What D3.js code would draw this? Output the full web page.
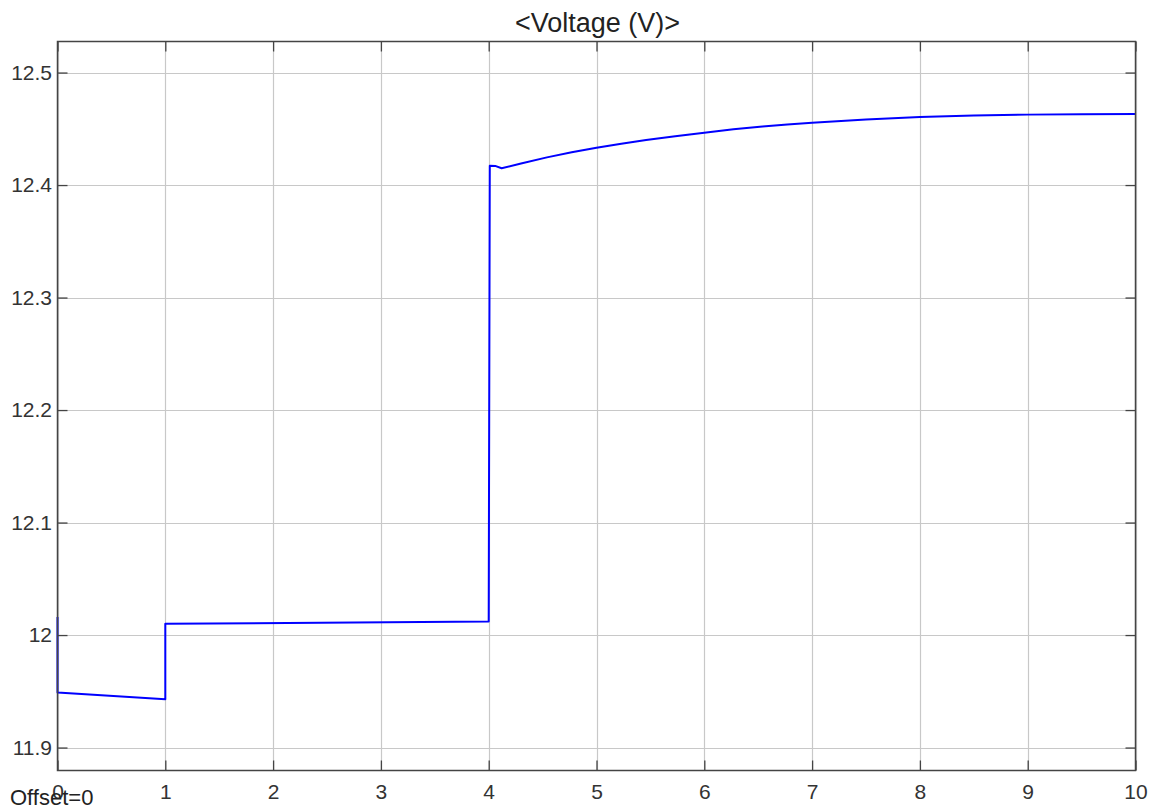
<!DOCTYPE html>
<html>
<head>
<meta charset="utf-8">
<script src="https://cdn.jsdelivr.net/npm/d3@7"></script>
<style>
  html, body { margin: 0; padding: 0; background: #fff; }
  svg { display: block; font-family: "Liberation Sans", Arial, sans-serif; }
</style>
</head>
<body>
<svg id="chart" width="1157" height="809"></svg>
<script>
// Battery voltage trace (time in s, voltage in V)
const timeValues = [0, 0, 1, 1, 4, 4.01, 4.06, 4.12, 4.3, 4.54, 4.77, 5, 5.23, 5.46, 5.73, 6, 6.27, 6.54, 6.77, 7, 7.5, 8, 8.5, 9, 9.5, 10];
const voltageValues = [12.016, 11.949, 11.943, 12.010, 12.012, 12.4172, 12.4170, 12.4149, 12.4192, 12.4246, 12.4292, 12.4332, 12.4368, 12.4400, 12.4434, 12.4465, 12.4495, 12.4520, 12.4538, 12.4554, 12.4582, 12.4604, 12.4618, 12.4626, 12.4630, 12.4631];
const xTicks = [0, 1, 2, 3, 4, 5, 6, 7, 8, 9, 10];
const yTicks = [11.9, 12.0, 12.1, 12.2, 12.3, 12.4, 12.5];
const yTickLabels = ["11.9", "12", "12.1", "12.2", "12.3", "12.4", "12.5"];

const svg = d3.select("#chart");
const plotLeft = 57.5, plotRight = 1135.5, plotTop = 41.5, plotBottom = 770.5;

const x = d3.scaleLinear().domain([0, 10]).range([plotLeft, plotRight]);
const y = d3.scaleLinear().domain([11.8796, 12.5276]).range([plotBottom, plotTop]);

// Grid
const grid = svg.append("g").attr("stroke", "#c8c8c8").attr("stroke-width", 1.2);
xTicks.forEach(t => grid.append("line")
  .attr("x1", Math.round(x(t)) + 0.5).attr("x2", Math.round(x(t)) + 0.5)
  .attr("y1", plotTop).attr("y2", plotBottom));
yTicks.forEach(t => grid.append("line")
  .attr("x1", plotLeft).attr("x2", plotRight)
  .attr("y1", Math.round(y(t)) + 0.5).attr("y2", Math.round(y(t)) + 0.5));

// Data trace
const line = d3.line()
  .x((d, i) => x(timeValues[i]))
  .y(d => y(d));
svg.append("path")
  .datum(voltageValues)
  .attr("fill", "none")
  .attr("stroke", "#0000ff")
  .attr("stroke-width", 2)
  .attr("stroke-linejoin", "round")
  .attr("d", line);

// Axes with inward ticks on all four sides
const tickLen = 10;
const axisColor = "#444";
const bottomAxis = d3.axisBottom(x).tickValues(xTicks).tickSizeInner(-tickLen).tickSizeOuter(0).tickPadding(13.5).tickFormat(d3.format("d"));
const topAxis = d3.axisTop(x).tickValues(xTicks).tickSizeInner(-tickLen).tickSizeOuter(0).tickFormat("");
const leftAxis = d3.axisLeft(y).tickValues(yTicks).tickSizeInner(-tickLen).tickSizeOuter(0).tickPadding(5.5)
  .tickFormat((d, i) => yTickLabels[i]);
const rightAxis = d3.axisRight(y).tickValues(yTicks).tickSizeInner(-tickLen).tickSizeOuter(0).tickFormat("");

function styleAxis(g) {
  g.select(".domain").remove();
  g.selectAll(".tick line").attr("stroke", axisColor).attr("stroke-width", 1.3);
  g.selectAll(".tick text").attr("fill", "#333").style("font-size", "21px");
}
svg.append("g").attr("transform", `translate(0,${plotBottom})`).call(bottomAxis).call(styleAxis);
svg.append("g").attr("transform", `translate(0,${plotTop})`).call(topAxis).call(styleAxis);
svg.append("g").attr("transform", `translate(${plotLeft},0)`).call(leftAxis).call(styleAxis);
svg.append("g").attr("transform", `translate(${plotRight},0)`).call(rightAxis).call(styleAxis);

// Frame
svg.append("rect")
  .attr("x", plotLeft).attr("y", plotTop)
  .attr("width", plotRight - plotLeft).attr("height", plotBottom - plotTop)
  .attr("fill", "none").attr("stroke", axisColor).attr("stroke-width", 1.5);

// Title
svg.append("text")
  .attr("x", (plotLeft + plotRight) / 2 + 1).attr("y", 32)
  .attr("text-anchor", "middle")
  .attr("fill", "#222")
  .style("font-size", "27px")
  .text("<Voltage (V)>");

// Offset note
svg.append("text")
  .attr("x", 10).attr("y", 805)
  .attr("fill", "#222")
  .style("font-size", "22px")
  .text("Offset=0");
</script>
</body>
</html>
